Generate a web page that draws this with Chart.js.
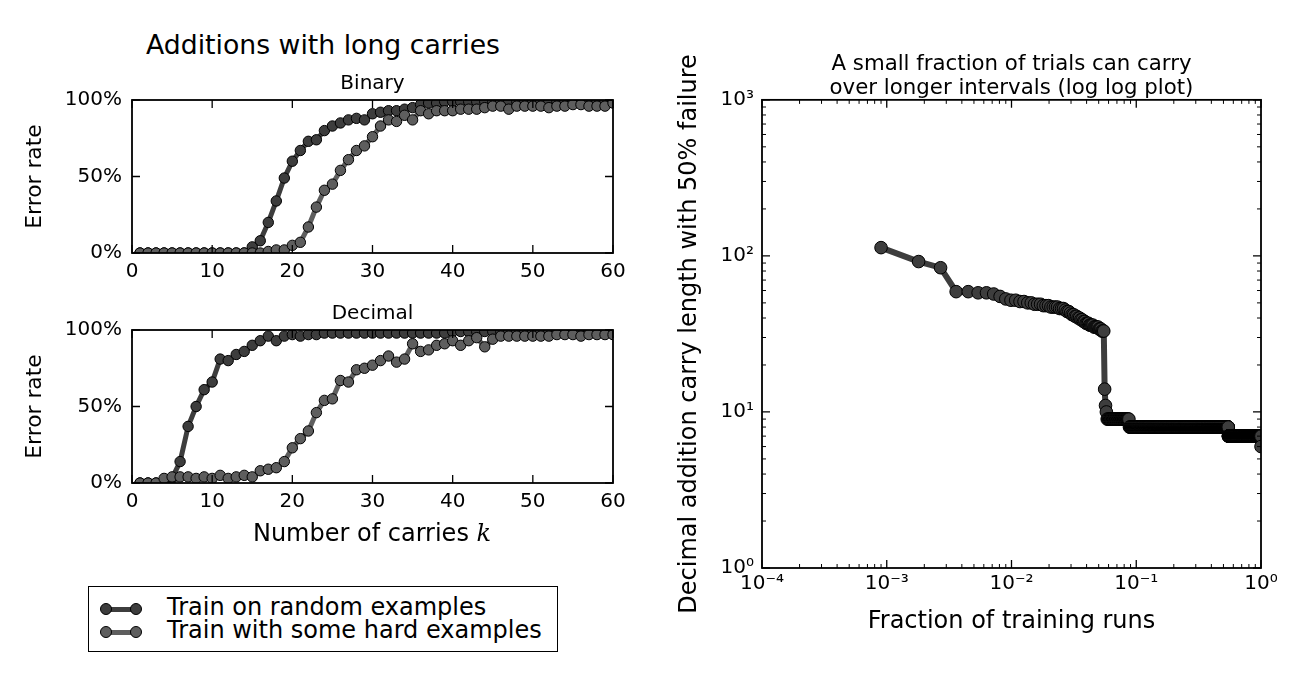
<!DOCTYPE html>
<html>
<head>
<meta charset="utf-8">
<script src="https://cdn.jsdelivr.net/npm/chart.js@4.4.1/dist/chart.umd.min.js"></script>
<style>
  html, body { margin: 0; padding: 0; background: #fff; }
  body { width: 1315px; height: 679px; position: relative; overflow: hidden; font-family: 'DejaVu Sans', sans-serif; color: #000; }
  canvas { position: absolute; }
  .label { position: absolute; white-space: nowrap; line-height: 1; }
  #left-title { left: 323px; top: 32px; font-size: 26.7px; transform: translateX(-50%); }
  #carries-label { left: 372px; top: 521px; font-size: 24px; line-height: 24px; transform: translateX(-50%); }
  #carries-label i { font-family: 'DejaVu Serif', serif; }
  #legend { position: absolute; left: 88px; top: 586px; width: 468px; height: 64px; border: 1.5px solid #000; }
  .row { position: absolute; left: 0; height: 24px; font-size: 24px; line-height: 24px; white-space: nowrap; }
  .row span { position: absolute; left: 78px; top: 0; }
  .swatch { position: absolute; left: 11px; top: 8px; width: 42px; height: 13px; }
  .swatch .bar { position: absolute; left: 5px; top: 4px; width: 32px; height: 5px; }
  .swatch .dot { position: absolute; top: 0; width: 12px; height: 12px; border: 1px solid #000; border-radius: 50%; box-sizing: border-box; }
</style>
</head>
<body>
<div class="label" id="left-title">Additions with long carries</div>
<canvas id="binary" width="640" height="221" style="left:0;top:72px;width:640px;height:221px"></canvas>
<canvas id="decimal" width="640" height="221" style="left:0;top:302px;width:640px;height:221px"></canvas>
<div class="label" id="carries-label">Number of carries <i>k</i></div>
<div id="legend"></div>
<canvas id="fraction" width="675" height="607" style="left:640px;top:53px;width:675px;height:607px"></canvas>

<script>
// ---------------- data ----------------
const carries = [1, 2, 3, 4, 5, 6, 7, 8, 9, 10, 11, 12, 13, 14, 15, 16, 17, 18, 19, 20,
  21, 22, 23, 24, 25, 26, 27, 28, 29, 30, 31, 32, 33, 34, 35, 36, 37, 38, 39, 40,
  41, 42, 43, 44, 45, 46, 47, 48, 49, 50, 51, 52, 53, 54, 55, 56, 57, 58, 59, 60];

// error rate in %, one value per number of carries
const binaryRandom = [0, 0, 0, 0, 0, 0, 0, 0, 0, 0, 0, 0, 0, 0, 4, 8, 20, 34, 49, 60,
  67, 73, 74, 80, 83, 85, 87, 88, 87, 91, 92, 93, 93, 94, 95, 97, 98, 98, 99, 99,
  99, 99, 99, 99, 99, 99, 99, 99, 99, 99, 99, 99, 99, 99, 99, 99, 99, 99, 99, 99];
const binaryHard = [0, 0, 0, 0, 0, 0, 0, 0, 0, 0, 0, 0, 0, 0, 0, 0, 1, 2, 2, 5,
  7, 17, 30, 41, 45, 54, 61, 67, 70, 76, 83, 87, 86, 90, 87, 93, 91, 93, 93, 93,
  94, 94, 94, 95, 96, 96, 94, 96, 96, 96, 96, 95, 96, 96, 97, 97, 96, 96, 96, 98];
const decimalRandom = [0, 0, 0, 1, 3, 14, 37, 50, 61, 66, 81, 80, 84, 86, 90, 93, 96, 93, 96, 97,
  96, 97, 97, 98, 98, 98, 98, 98, 98, 98, 98, 98, 98, 98, 98, 98, 98, 98, 98, 99,
  99, 99, 99, 99, 99, 99, 99, 99, 99, 99, 99, 99, 99, 99, 99, 99, 99, 99, 99, 99];
const decimalHard = [0, 0, 0, 3, 4, 4, 4, 3, 4, 3, 5, 3, 4, 5, 4, 8, 9, 10, 14, 23,
  29, 34, 46, 54, 55, 67, 66, 74, 75, 77, 80, 83, 79, 81, 91, 86, 87, 90, 91, 93,
  90, 93, 95, 89, 94, 96, 96, 96, 96, 96, 96, 96, 97, 97, 97, 96, 97, 97, 97, 97];

// training runs sorted by carry length (rank r sits at fraction r / totalRuns)
const totalRuns = 1111;
const leadingCarryLengths = [113, 92, 84, 59, 59, 58, 58, 57, 55, 53, 52, 52, 51, 51, 50, 50,
  49, 49, 49, 48, 48, 48, 47, 47, 47, 47, 46, 46, 46, 45, 44, 44, 43, 42, 42, 41, 41,
  40, 40, 39, 39, 38, 38, 37, 37, 37, 36, 36, 36, 36, 35, 35, 35, 35, 35, 34, 34, 34,
  33, 33, 33, 14, 11, 10];
// the rest of the runs share a few carry lengths: value and the last rank holding it
const plateauCarryLengths = [9, 8, 7, 6];
const plateauLastRanks = [97, 607, 1110, 1111];

const xDecades = [1e-4, 1e-3, 1e-2, 1e-1, 1];
const xTickLabels = ['10\u207B\u2074', '10\u207B\u00B3', '10\u207B\u00B2', '10\u207B\u00B9', '10\u2070'];
const yDecades = [1, 10, 100, 1000];
const yTickLabels = ['10\u2070', '10\u00B9', '10\u00B2', '10\u00B3'];

const seriesNames = ['Train on random examples', 'Train with some hard examples'];

// ---------------- style ----------------
const darkGray = '#3d3d3d';
const midGray = '#5e5e5e';

Chart.defaults.font.family = "'DejaVu Sans', sans-serif";
Chart.defaults.color = '#000';

// fixed axis sizes so the plot areas land where the figure has them
function lockScale(size) {
  return (scale) => {
    if (scale.isHorizontal()) scale.height = size; else scale.width = size;
    scale.paddingLeft = 0;
    scale.paddingRight = 0;
    scale.paddingTop = 0;
    scale.paddingBottom = 0;
  };
}

// matplotlib style box with inward ticks on all four sides
const frameTicks = {
  id: 'frameTicks',
  afterDatasetsDraw(chart, args, opts) {
    const {ctx, chartArea: a} = chart;
    const mark = (scale, values, len) => {
      values.forEach(v => {
        const p = scale.getPixelForValue(v);
        if (scale.isHorizontal()) {
          ctx.moveTo(p, a.bottom); ctx.lineTo(p, a.bottom - len);
          ctx.moveTo(p, a.top); ctx.lineTo(p, a.top + len);
        } else {
          ctx.moveTo(a.left, p); ctx.lineTo(a.left + len, p);
          ctx.moveTo(a.right, p); ctx.lineTo(a.right - len, p);
        }
      });
    };
    const minorOf = (scale) => {
      const out = [];
      scale.ticks.slice(0, -1).forEach(t => {
        [2, 3, 4, 5, 6, 7, 8, 9].forEach(m => out.push(t.value * m));
      });
      return out;
    };
    ctx.save();
    ctx.strokeStyle = '#000';
    ctx.lineWidth = 1.3;
    ctx.beginPath();
    ['x', 'y'].forEach(id => {
      const s = chart.scales[id];
      mark(s, s.ticks.map(t => t.value), opts.major);
    });
    ctx.stroke();
    if (opts.minor) {
      ctx.lineWidth = 1;
      ctx.beginPath();
      ['x', 'y'].forEach(id => mark(chart.scales[id], minorOf(chart.scales[id]), opts.minor));
      ctx.stroke();
    }
    ctx.lineWidth = 1.8;
    ctx.strokeRect(a.left, a.top, a.width, a.height);
    ctx.restore();
  }
};

function toPoints(values) {
  return carries.map((k, i) => ({x: k, y: values[i]}));
}

function lineStyle(color, order) {
  return {
    borderColor: color,
    backgroundColor: color,
    pointBackgroundColor: color,
    pointBorderColor: '#000',
    pointBorderWidth: 1,
    pointRadius: 5.2,
    borderWidth: 5,
    tension: 0,
    clip: 0,
    order: order
  };
}

function errorChart(id, title, randomValues, hardValues) {
  return new Chart(document.getElementById(id), {
    type: 'line',
    data: {
      datasets: [
        {label: seriesNames[0], data: toPoints(randomValues), ...lineStyle(darkGray, 1)},
        {label: seriesNames[1], data: toPoints(hardValues), ...lineStyle(midGray, 0)}
      ]
    },
    options: {
      responsive: false,
      animation: false,
      events: [],
      layout: {padding: {left: 0, top: 0, right: 27, bottom: 0}},
      plugins: {
        legend: {display: false},
        tooltip: {enabled: false},
        title: {
          display: true,
          text: title,
          fullSize: false,
          color: '#000',
          font: {size: 20, weight: 'normal'},
          padding: {top: 0, bottom: 4}
        },
        frameTicks: {major: 8}
      },
      scales: {
        x: {
          type: 'linear',
          min: 0,
          max: 60,
          grid: {display: false, drawTicks: false},
          border: {display: false},
          ticks: {stepSize: 10, padding: 7, maxRotation: 0, font: {size: 20}},
          afterFit: lockScale(40)
        },
        y: {
          min: 0,
          max: 100,
          grid: {display: false, drawTicks: false},
          border: {display: false},
          ticks: {stepSize: 50, padding: 10, font: {size: 20}, callback: v => v + '%'},
          title: {display: true, text: 'Error rate', font: {size: 21.8}, padding: {top: 22, bottom: 0}},
          afterFit: lockScale(132)
        }
      }
    },
    plugins: [frameTicks]
  });
}

const binaryChart = errorChart('binary', 'Binary', binaryRandom, binaryHard);
const decimalChart = errorChart('decimal', 'Decimal', decimalRandom, decimalHard);

// ---------------- log log plot ----------------
const fractionPoints = leadingCarryLengths.map((len, i) => ({x: (i + 1) / totalRuns, y: len}));
let rank = leadingCarryLengths.length;
plateauCarryLengths.forEach((len, j) => {
  for (; rank < plateauLastRanks[j]; rank++) {
    fractionPoints.push({x: (rank + 1) / totalRuns, y: len});
  }
});

const fractionChart = new Chart(document.getElementById('fraction'), {
  type: 'line',
  data: {
    datasets: [{
      label: 'carry length',
      data: fractionPoints,
      borderColor: darkGray,
      backgroundColor: darkGray,
      pointBackgroundColor: darkGray,
      pointBorderColor: '#000',
      pointBorderWidth: 1,
      pointRadius: 6.3,
      borderWidth: 6,
      tension: 0,
      clip: 0
    }]
  },
  options: {
    responsive: false,
    animation: false,
    events: [],
    layout: {padding: {left: 0, top: 0, right: 54, bottom: 0}},
    plugins: {
      legend: {display: false},
      tooltip: {enabled: false},
      title: {
        display: true,
        text: ['A small fraction of trials can carry', 'over longer intervals (log log plot)'],
        fullSize: false,
        color: '#000',
        font: {size: 21.3, weight: 'normal', lineHeight: 1.1},
        padding: {top: 0, bottom: 0}
      },
      frameTicks: {major: 8, minor: 4}
    },
    scales: {
      x: {
        type: 'logarithmic',
        min: 1e-4,
        max: 1,
        grid: {display: false, drawTicks: false},
        border: {display: false},
        afterBuildTicks: (s) => { s.ticks = xDecades.map(v => ({value: v})); },
        ticks: {padding: 4, maxRotation: 0, autoSkip: false, font: {size: 20},
          callback: v => xTickLabels[xDecades.indexOf(v)]},
        title: {display: true, text: 'Fraction of training runs', font: {size: 24}, padding: {top: 0, bottom: 23.6}},
        afterFit: lockScale(92)
      },
      y: {
        type: 'logarithmic',
        min: 1,
        max: 1000,
        grid: {display: false, drawTicks: false},
        border: {display: false},
        afterBuildTicks: (s) => { s.ticks = yDecades.map(v => ({value: v})); },
        ticks: {padding: 8, autoSkip: false, font: {size: 20},
          callback: v => yTickLabels[yDecades.indexOf(v)]},
        title: {display: true, text: 'Decimal addition carry length with 50% failure', font: {size: 24}, padding: {top: 35.6, bottom: 0}},
        afterFit: lockScale(122)
      }
    }
  },
  plugins: [frameTicks]
});

// ---------------- legend (shared by both left panels) ----------------
const legend = document.getElementById('legend');
[darkGray, midGray].forEach((color, i) => {
  const row = document.createElement('div');
  row.className = 'row';
  row.style.top = (8.2 + i * 22.3) + 'px';
  row.innerHTML =
    '<div class="swatch">' +
      '<div class="bar" style="background:' + color + '"></div>' +
      '<div class="dot" style="left:0;background:' + color + '"></div>' +
      '<div class="dot" style="left:30px;background:' + color + '"></div>' +
    '</div><span></span>';
  row.querySelector('span').textContent = seriesNames[i];
  legend.appendChild(row);
});
</script>
</body>
</html>
